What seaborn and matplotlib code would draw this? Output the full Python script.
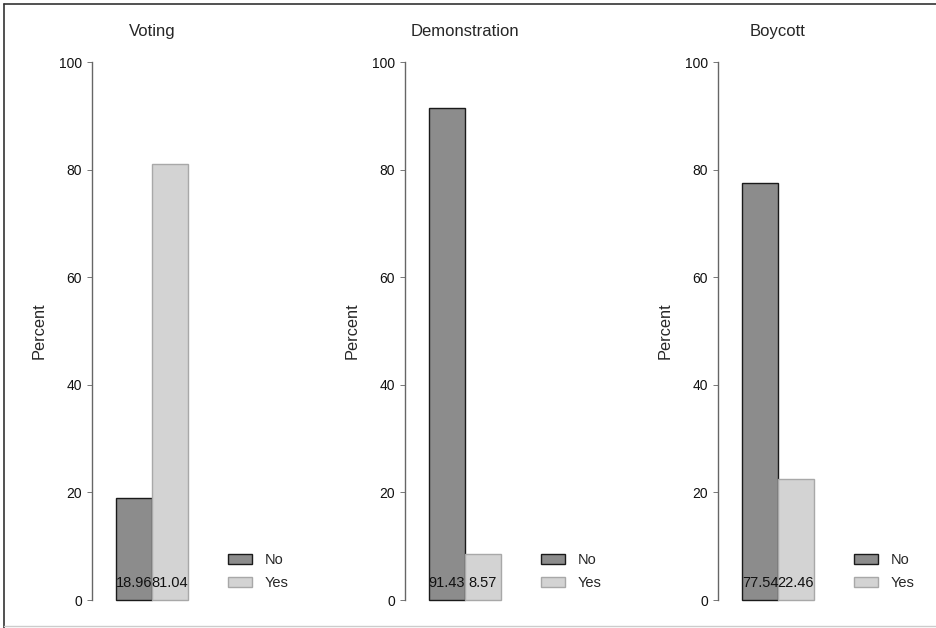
import matplotlib
matplotlib.use("Agg")
import matplotlib.pyplot as plt
import seaborn as sns
from matplotlib.patches import Patch
from matplotlib.lines import Line2D

sns.set_style("white")
plt.rcParams["font.family"] = ["Liberation Sans", "DejaVu Sans"]

# === data ===
titles = ["Voting", "Demonstration", "Boycott"]
answers = ["No", "Yes"]
no_pct = [18.96, 91.43, 77.54]
yes_pct = [81.04, 8.57, 22.46]
yticks = [0, 20, 40, 60, 80, 100]

fill_colors = ["#8c8c8c", "#d3d3d3"]
edge_colors = ["#1a1a1a", "#a8a8a8"]

W, H = 936, 628
fig = plt.figure(figsize=(W / 100, H / 100), dpi=100)

# outer frame (top / left dark, bottom light)
fig.add_artist(Line2D([4 / W, 4 / W], [0.5 / H, 1 - 4 / H], color="#333333", lw=1.2))
fig.add_artist(Line2D([4 / W, 1], [1 - 4 / H, 1 - 4 / H], color="#333333", lw=1.2))
fig.add_artist(Line2D([4 / W, 1], [2 / H, 2 / H], color="#cccccc", lw=1.0))

for i, title in enumerate(titles):
    left = 92 + 313 * i
    ax = fig.add_axes([left / W, (H - 600) / H, 120 / W, 538 / H])
    vals = [no_pct[i], yes_pct[i]]
    sns.barplot(x=answers, y=vals, hue=answers, palette=fill_colors,
                width=1.0, legend=False, ax=ax)
    for p, ec in zip(ax.patches, edge_colors):
        p.set_edgecolor(ec)
        p.set_linewidth(1.0)
        p.set_clip_on(False)
    for k, v in enumerate(vals):
        ax.text(k, 1.8, f"{v:.2f}", ha="center", va="bottom", fontsize=10.5, color="#111111")

    ax.set_xlim(-1.1667, 2.1667)
    ax.set_ylim(0, 100)
    ax.set_xticks([])
    ax.set_yticks(yticks)
    ax.set_yticklabels([str(t) for t in yticks], fontsize=10)
    ax.tick_params(axis="y", direction="out", length=3.6, width=0.7, color="#777777",
                   pad=3.5, left=True, labelcolor="#111111")
    for s in ["top", "right", "bottom"]:
        ax.spines[s].set_visible(False)
    ax.spines["left"].set_color("#666666")
    ax.spines["left"].set_linewidth(1.0)
    ax.set_xlabel("")
    ax.set_ylabel("Percent", fontsize=11.8, labelpad=9)
    ax.set_title(title, fontsize=12, pad=18.5)

    handles = [Patch(facecolor=fill_colors[k], edgecolor=edge_colors[k], label=answers[k])
               for k in range(2)]
    ax.legend(handles=handles, loc="lower left", bbox_to_anchor=(130 / 120, 0.008),
              frameon=False, fontsize=10.5, handlelength=1.65, handleheight=0.7,
              handletextpad=0.9, labelspacing=0.6, borderaxespad=0)

fig.savefig("out.png", dpi=100)
